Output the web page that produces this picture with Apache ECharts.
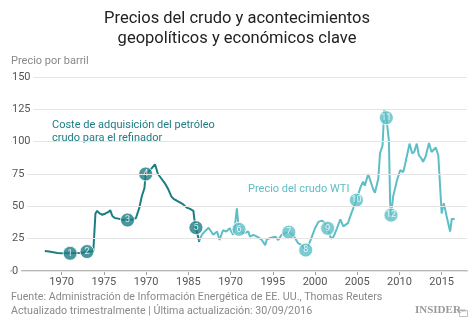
<!DOCTYPE html>
<html>
<head>
<meta charset="utf-8">
<script src="https://cdn.jsdelivr.net/npm/echarts@6/dist/echarts.min.js"></script>
<style>
  html, body { margin: 0; padding: 0; background: #fff; }
  #chart { width: 474px; height: 336px; }
</style>
</head>
<body>
<div id="chart"></div>
<script>
// Refiner acquisition cost of crude oil (quarterly, $ per barrel)
const refinerYears = [
  1968.0, 1968.5, 1969.0, 1969.5, 1970.0, 1970.5, 1971.0, 1971.5, 1972.0, 1972.5,
  1973.0, 1973.5, 1973.75, 1974.0, 1974.2, 1974.5, 1974.8, 1975.2, 1975.5, 1975.75,
  1976.0, 1976.3, 1976.7, 1977.0, 1977.4, 1977.8, 1978.3, 1978.8, 1979.2, 1979.5,
  1979.8, 1979.95, 1980.3, 1980.6, 1981.05, 1981.4, 1981.8, 1982.2, 1982.6, 1983.0,
  1983.3, 1983.6, 1984.0, 1984.4, 1984.8, 1985.2, 1985.6, 1985.75, 1985.9, 1986.3
];
const refinerPrices = [
  15.5, 15.0, 14.5, 14.0, 13.8, 13.7, 13.7, 13.9, 14.0, 14.2,
  15.0, 15.2, 15.5, 44.5, 46.5, 44.5, 43.5, 44.5, 45.5, 47.0,
  42.5, 41.0, 40.5, 40.0, 39.3, 39.4, 39.6, 41.0, 49.0, 58.0,
  64.0, 75.0, 77.0, 79.0, 82.5, 75.0, 71.5, 68.0, 63.5, 57.5,
  55.5, 54.5, 53.0, 51.5, 49.0, 48.0, 46.5, 38.0, 33.5, 22.5
];

// WTI crude price (quarterly, $ per barrel)
const wtiYears = [
  1986.3, 1986.6, 1987.0, 1987.4, 1987.6, 1987.95, 1988.4, 1988.7, 1989.1, 1989.5,
  1989.9, 1990.3, 1990.5, 1990.75, 1990.95, 1991.0, 1991.5, 1992.1, 1992.3, 1992.7,
  1993.3, 1993.7, 1994.1, 1994.3, 1994.7, 1995.3, 1995.65, 1996.05, 1996.4, 1996.9,
  1997.4, 1998.0, 1998.4, 1998.9, 1999.4, 2000.0, 2000.4, 2000.8, 2001.2, 2001.5,
  2001.9, 2002.2, 2002.6, 2003.0, 2003.35, 2003.9, 2004.3, 2004.9, 2005.4, 2005.7,
  2005.9, 2006.3, 2006.5, 2006.9, 2007.1, 2007.5, 2007.7, 2008.0, 2008.2, 2008.45,
  2008.75, 2008.9, 2009.0, 2009.25, 2009.7, 2010.1, 2010.45, 2010.65, 2011.2, 2011.5,
  2011.75, 2012.05, 2012.3, 2012.6, 2012.8, 2013.1, 2013.5, 2013.8, 2014.3, 2014.6,
  2015.0, 2015.25, 2015.6, 2016.0, 2016.2, 2016.55
];
const wtiPrices = [
  23.5, 28.0, 31.0, 33.5, 35.0, 28.0, 30.5, 24.0, 31.5, 30.5,
  33.0, 28.0, 34.0, 48.5, 34.0, 32.2, 29.0, 30.5, 26.5, 28.0,
  26.0, 24.0, 20.0, 24.5, 25.5, 26.5, 24.0, 28.0, 29.0, 30.0,
  28.0, 21.5, 20.0, 16.2, 22.5, 33.0, 38.0, 39.0, 37.0, 33.0,
  25.0, 26.5, 33.0, 40.0, 34.5, 37.0, 44.5, 54.8, 65.0, 69.0,
  66.0, 75.0, 73.5, 63.0, 60.5, 71.5, 91.0, 97.0, 125.0, 118.5,
  101.0, 52.0, 43.2, 57.5, 70.0, 78.0, 76.5, 82.0, 98.5, 91.0,
  92.0, 98.5, 89.5, 87.0, 84.5, 88.5, 99.0, 92.0, 95.5, 89.5,
  44.5, 52.5, 42.0, 30.5, 40.5, 40.0
];

// Numbered geopolitical / economic events placed on the curves
const eventNumbers = [1, 2, 3, 4, 5, 6, 7, 8, 9, 10, 11, 12];
const eventYears   = [1971.0, 1973.0, 1977.8, 1979.95, 1985.9, 1991.0, 1996.9, 1998.9, 2001.5, 2004.9, 2008.45, 2009.0];
const eventPrices  = [13.7, 15.0, 39.4, 75.0, 33.5, 32.2, 30.0, 16.2, 33.0, 54.8, 118.5, 43.2];
const eventOnWti   = [false, false, false, false, false, true, true, true, true, true, true, true];

// Axis tick positions and their printed labels
const tickYears  = [1970, 1975, 1980, 1985, 1990, 1995, 2000, 2005, 2010, 2015];
const tickLabels = ['1970', '1975', '1970', '1985', '1970', '1995', '2000', '2005', '2010', '2015'];
const priceTicks = [0, 25, 50, 75, 100, 125, 150];

const DARK = '#1c7d83';
const LIGHT = '#5dbec6';
const FONT = 'Roboto, "Noto Sans", sans-serif';

const pairs = (xs, ys) => xs.map((x, i) => [x, ys[i]]);

const chart = echarts.init(document.getElementById('chart'), null, { renderer: 'canvas' });

chart.setOption({
  animation: false,
  backgroundColor: '#fff',
  textStyle: { fontFamily: FONT },
  // plot area spans 1964 → 2018; price labels sit on the left edge of each gridline
  grid: { left: 11, right: 7, top: 77, bottom: 65, containLabel: false },
  xAxis: {
    type: 'value',
    min: 1964,
    max: 2018,
    axisLine: { show: true, lineStyle: { color: '#a0a0a0', width: 1.5 } },
    axisTick: { show: true, customValues: tickYears, length: 4, lineStyle: { color: '#a0a0a0' } },
    axisLabel: {
      customValues: tickYears,
      formatter: (v) => tickLabels[tickYears.indexOf(v)],
      color: '#555', fontSize: 11, margin: 6, fontFamily: FONT
    },
    splitLine: { show: false }
  },
  yAxis: {
    type: 'value',
    min: priceTicks[0],
    max: priceTicks[priceTicks.length - 1],
    interval: 25,
    z: 5,
    axisLine: { show: false },
    axisTick: { show: false },
    axisLabel: {
      inside: false, margin: -1, align: 'left', verticalAlign: 'middle',
      showMinLabel: true, showMaxLabel: true,
      color: '#555', fontSize: 11, fontFamily: FONT,
      backgroundColor: '#fff', padding: [1, 3, 1, 0]
    },
    splitLine: { show: true, lineStyle: { color: '#e4e4e4', width: 1 } }
  },
  series: [
    {
      name: 'Coste de adquisición del petróleo crudo para el refinador',
      type: 'line',
      data: pairs(refinerYears, refinerPrices),
      showSymbol: false,
      lineStyle: { color: DARK, width: 2 },
      itemStyle: { color: DARK },
      z: 3
    },
    {
      name: 'Precio del crudo WTI',
      type: 'line',
      data: pairs(wtiYears, wtiPrices),
      showSymbol: false,
      lineStyle: { color: LIGHT, width: 2 },
      itemStyle: { color: LIGHT },
      z: 3
    },
    {
      name: 'Eventos',
      type: 'scatter',
      z: 4,
      symbolSize: 14,
      data: eventNumbers.map((n, i) => ({
        value: [eventYears[i], eventPrices[i]],
        name: String(n),
        itemStyle: { color: eventOnWti[i] ? LIGHT : DARK, borderColor: '#fff', borderWidth: 1 }
      })),
      label: {
        show: true, position: 'inside', formatter: (p) => p.name,
        color: '#fff', fontSize: 9, fontFamily: FONT
      }
    }
  ],
  graphic: [
    {
      type: 'text', left: 'center', top: 9,
      style: {
        text: 'Precios del crudo y acontecimientos\ngeopolíticos y económicos clave',
        fill: '#222', font: '16.5px ' + FONT, textAlign: 'center', lineHeight: 20
      }
    },
    {
      type: 'text', left: 11, top: 56,
      style: { text: 'Precio por barril', fill: '#888', font: '11px ' + FONT }
    },
    {
      type: 'text', left: 52, top: 119,
      style: {
        text: 'Coste de adquisición del petróleo\ncrudo para el refinador',
        fill: DARK, font: '11px ' + FONT, lineHeight: 13
      }
    },
    {
      type: 'text', left: 248, top: 184,
      style: { text: 'Precio del crudo WTI', fill: LIGHT, font: '11px ' + FONT }
    },
    {
      type: 'text', left: 11, top: 290,
      style: {
        text: 'Fuente: Administración de Información Energética de EE. UU., Thomas Reuters\nActualizado trimestralmente | Última actualización: 30/09/2016',
        fill: '#8a8a8a', font: '10.7px ' + FONT, lineHeight: 14
      }
    },
    {
      type: 'text', left: 415, top: 305,
      style: { text: 'INSIDER', fill: '#9a9a9a', font: 'bold 11px "Liberation Serif", serif' }
    },
    {
      type: 'rect', left: 457, top: 308, shape: { width: 8, height: 6 },
      style: { fill: 'none', stroke: '#b0b0b0', lineWidth: 0.8 }
    },
    {
      type: 'text', left: 458, top: 309,
      style: { text: 'PRO', fill: '#a0a0a0', font: '4px ' + FONT }
    }
  ]
});
</script>
</body>
</html>
